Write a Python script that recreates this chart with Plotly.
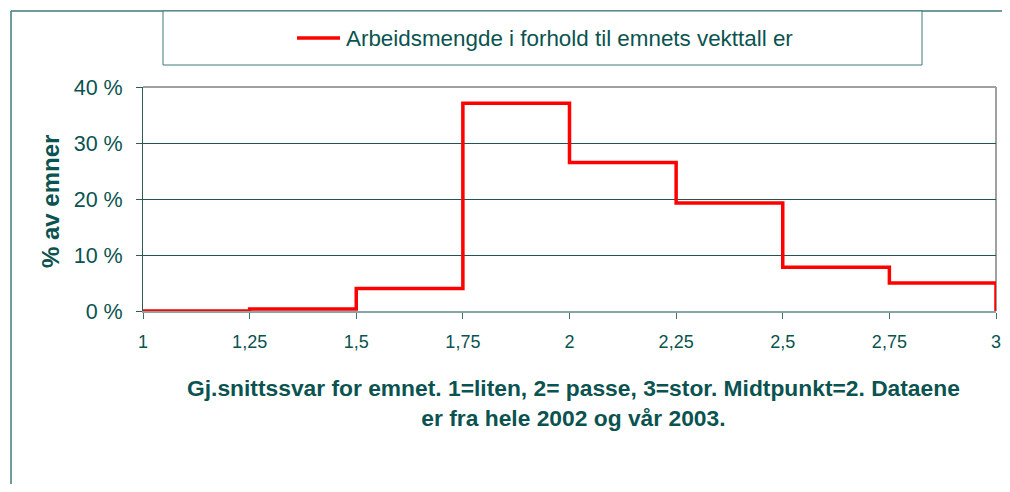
import plotly.graph_objects as go

# ---- data ----
bin_edges = [1, 1.25, 1.5, 1.75, 2, 2.25, 2.5, 2.75, 3]
pct_values = [0.0, 0.35, 4.0, 37.1, 26.5, 19.3, 7.8, 5.0]   # % av emner per interval
x_tick_vals = [1, 1.25, 1.5, 1.75, 2, 2.25, 2.5, 2.75, 3]
x_tick_text = ["1", "1,25", "1,5", "1,75", "2", "2,25", "2,5", "2,75", "3"]
y_tick_vals = [0, 10, 20, 30, 40]
y_tick_text = ["0 %", "10 %", "20 %", "30 %", "40 %"]
series_name = "Arbeidsmengde i forhold til emnets vekttall er"
x_title = "Gj.snittssvar for emnet. 1=liten, 2= passe, 3=stor. Midtpunkt=2. Dataene<br>er fra hele 2002 og vår 2003."
y_title = "% av emner"

# step line built from the bins
xs = list(bin_edges) + [bin_edges[-1]]
ys = list(pct_values) + [pct_values[-1], 0]

OFF = 8  # page body margin
W, H = 1010 - 2 * OFF, 492 - 2 * OFF
L, R, T, B = 143 - OFF, 996 - OFF, 87 - OFF, 311 - OFF
TEXT = "#0a5350"
FRAME = "#3d7b78"
FONT = "Liberation Sans, Arial, sans-serif"

def px(x):
    return (x - OFF - L) / (R - L)

def py(y):
    return (B - (y - OFF)) / (B - T)

fig = go.Figure()
fig.add_trace(go.Scatter(
    x=xs, y=ys, mode="lines", name=series_name,
    line=dict(color="#ff0000", width=3.5, shape="hv"),
    cliponaxis=False, showlegend=False,
))

shapes = [
    # outer chart frame (partially visible)
    dict(type="line", xref="paper", yref="paper", x0=px(11), x1=px(1015), y0=py(11), y1=py(11),
         line=dict(color=FRAME, width=1.5)),
    dict(type="line", xref="paper", yref="paper", x0=px(11), x1=px(11), y0=py(11), y1=py(500),
         line=dict(color=FRAME, width=1.5)),
    # legend box
    dict(type="rect", xref="paper", yref="paper", x0=px(163), x1=px(922), y0=py(11), y1=py(65),
         line=dict(color=FRAME, width=1), fillcolor="white"),
    # legend line sample
    dict(type="line", xref="paper", yref="paper", x0=px(297), x1=px(340), y0=py(38), y1=py(38),
         line=dict(color="#ff0000", width=3.5)),
    # plot area top / right border
    dict(type="line", xref="paper", yref="paper", x0=0, x1=1, y0=1, y1=1, layer="below",
         line=dict(color="#a0a0a0", width=2)),
    dict(type="line", xref="paper", yref="paper", x0=1, x1=1, y0=0, y1=1, layer="below",
         line=dict(color="#a0a0a0", width=2)),
]

annotations = [
    dict(text=series_name, xref="paper", yref="paper", x=px(344), y=py(38),
         xanchor="left", yanchor="middle", showarrow=False,
         font=dict(family=FONT, size=22.4, color=TEXT)),
    dict(text="<b>" + y_title + "</b>", xref="paper", yref="paper", x=px(50), y=py(202),
         xanchor="center", yanchor="middle", textangle=-90, showarrow=False,
         font=dict(family=FONT, size=24, color=TEXT)),
    dict(text="<b>" + x_title + "</b>", xref="paper", yref="paper", x=px(573), y=py(403),
         xanchor="center", yanchor="middle", showarrow=False, align="center",
         font=dict(family=FONT, size=22.8, color=TEXT)),
]

fig.update_layout(
    width=W, height=H,
    margin=dict(l=L, r=W - R, t=T, b=H - B, pad=0),
    paper_bgcolor="white", plot_bgcolor="white",
    font=dict(family=FONT, color=TEXT),
    shapes=shapes, annotations=annotations,
    showlegend=False,
)
fig.update_xaxes(
    range=[1, 3], tickmode="array", tickvals=x_tick_vals, ticktext=x_tick_text,
    showgrid=False, zeroline=False, showline=True, linecolor="#8aa3a3", linewidth=2,
    ticks="outside", ticklen=6, tickcolor="#3d6f6d", tickwidth=1,
    ticklabelstandoff=7, ticklabeloverflow="allow", automargin=False,
    tickfont=dict(family=FONT, size=18, color=TEXT),
)
fig.update_yaxes(
    range=[0, 40], tickmode="array", tickvals=y_tick_vals, ticktext=y_tick_text,
    showgrid=True, gridcolor="#1f5552", gridwidth=1, zeroline=False,
    showline=True, linecolor="#2f5a58", linewidth=1,
    ticks="outside", ticklen=6, tickcolor="#2f5a58", tickwidth=1,
    ticklabelstandoff=9, automargin=False,
    tickfont=dict(family=FONT, size=21.5, color=TEXT),
)

fig.write_html("out.html")
